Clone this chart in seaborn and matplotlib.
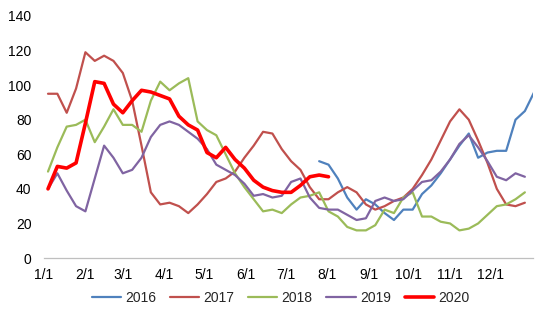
import numpy as np
import pandas as pd
import matplotlib
matplotlib.use("Agg")
import matplotlib.pyplot as plt
import seaborn as sns

# ---- data (weekly values, week index starting first week of January) ----
start_2016 = 29
y2016 = [56, 54, 46, 35, 28, 34, 31, 26, 22, 28, 28, 37, 42, 49, 57, 65, 72,
         58, 61, 62, 62, 80, 85, 96]
y2017 = [95, 95, 84, 98, 119, 114, 117, 114, 107, 91, 65, 38, 31, 32, 30, 26,
         31, 37, 44, 46, 50, 58, 65, 73, 72, 63, 56, 51, 41, 34, 34, 38, 41, 38,
         31, 28, 30, 33, 35, 40, 48, 57, 68, 79, 86, 80, 68, 55, 40, 31, 30, 32]
y2018 = [50, 64, 76, 77, 80, 67, 76, 86, 77, 77, 73, 91, 102, 97, 101, 104,
         79, 74, 71, 60, 49, 41, 34, 27, 28, 26, 31, 35, 36, 38, 27, 24, 18, 16,
         16, 19, 28, 26, 35, 38, 24, 24, 21, 20, 16, 17, 20, 25, 30, 31, 34, 38]
y2019 = [40, 49, 39, 30, 27, 46, 65, 58, 49, 51, 58, 70, 77, 79, 77, 73, 69,
         63, 54, 51, 48, 43, 36, 37, 35, 36, 44, 46, 35, 29, 28, 28, 25, 22, 23,
         33, 35, 33, 34, 39, 44, 45, 50, 57, 66, 71, 64, 56, 47, 45, 49, 47]
y2020 = [40, 53, 52, 55, 78, 102, 101, 89, 84, 91, 97, 96, 94, 92, 82, 77, 74,
         61, 58, 64, 57, 52, 45, 41, 39, 38, 38, 42, 47, 48, 47]

years = ["2016", "2017", "2018", "2019", "2020"]
colors = {"2016": "#4F81BD", "2017": "#C0504D", "2018": "#9BBB59",
          "2019": "#8064A2", "2020": "#FF0000"}
widths = {"2016": 1.6, "2017": 1.6, "2018": 1.6, "2019": 1.6, "2020": 2.6}

month_labels = ["1/1", "2/1", "3/1", "4/1", "5/1", "6/1", "7/1", "8/1",
                "9/1", "10/1", "11/1", "12/1"]
month_days = [0, 31, 59, 90, 120, 151, 181, 212, 243, 273, 304, 334]

series = {
    "2016": (start_2016, y2016),
    "2017": (0, y2017),
    "2018": (0, y2018),
    "2019": (0, y2019),
    "2020": (0, y2020),
}

frames = []
for yr in years:
    s, vals = series[yr]
    frames.append(pd.DataFrame({"week": np.arange(s, s + len(vals)),
                                "value": vals, "year": yr}))
df = pd.concat(frames, ignore_index=True)

# ---- plot ----
sns.set_style("white")
plt.rcParams["font.family"] = ["Liberation Sans", "DejaVu Sans"]

fig = plt.figure(figsize=(5.5, 3.25), dpi=100)
ax = fig.add_axes([0.08, 0.206, 0.889, 0.745])

for yr in years:
    sub = df[df["year"] == yr]
    sns.lineplot(data=sub, x="week", y="value", ax=ax, color=colors[yr],
                 linewidth=widths[yr], label=yr, legend=False)

day0 = 3.0
tick_pos = [(d - day0) / 7.0 for d in month_days] + [(365 - day0) / 7.0]
ax.set_xticks(tick_pos)
ax.set_xticklabels(month_labels + [""])
ax.set_xlim((0 - day0) / 7.0, (365 - day0) / 7.0 + 0.15)
ax.set_ylim(0, 140)
ax.set_yticks(np.arange(0, 141, 20))
ax.set_xlabel("")
ax.set_ylabel("")

for sp in ["top", "right", "left"]:
    ax.spines[sp].set_visible(False)
ax.spines["bottom"].set_color("#BFBFBF")
ax.spines["bottom"].set_linewidth(0.9)
ax.tick_params(axis="x", length=4, color="#BFBFBF", width=0.9,
               labelsize=10, labelcolor="#000000", pad=3)
ax.tick_params(axis="y", length=0, labelsize=10, labelcolor="#000000", pad=9)
ax.grid(False)

handles = [plt.Line2D([], [], color=colors[y], linewidth=widths[y]) for y in years]
fig.legend(handles, years, loc="center", bbox_to_anchor=(0.51, 0.083),
           ncol=5, frameon=False, fontsize=10, handlelength=2.1,
           handletextpad=0.3, columnspacing=1.0)

fig.savefig("out.png", dpi=100)
